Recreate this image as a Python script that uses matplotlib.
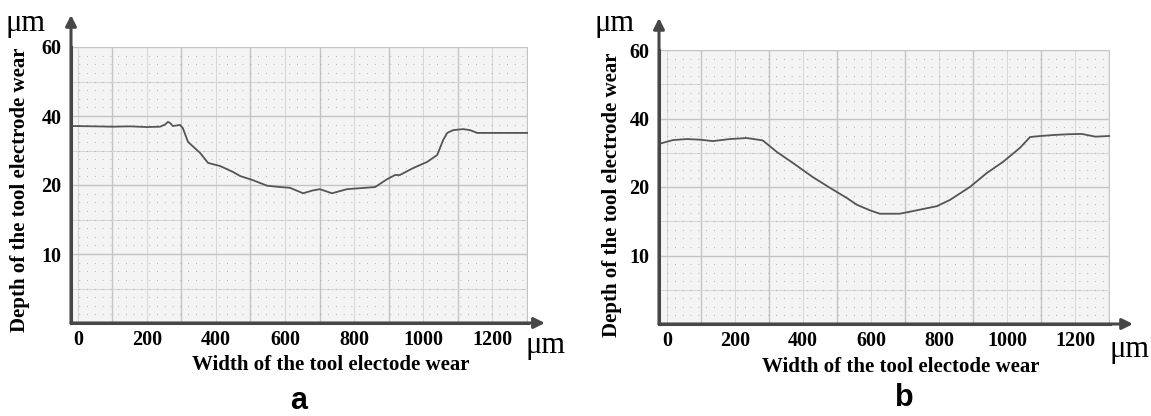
import numpy as np
import matplotlib.pyplot as plt
from matplotlib.ticker import FixedLocator, NullFormatter

# profile of panel a (width in um, depth in um)
width_a = [-18, 50, 100, 150, 200, 238, 252, 261, 268, 275, 296, 304, 319, 354, 377,
           412, 449, 470, 507, 548, 586, 614, 643, 652, 680, 701, 736, 780, 861, 896,
           919, 933, 971, 1012, 1041, 1058, 1070, 1087, 1116, 1136, 1157, 1203, 1261, 1304]
depth_a = [37.1, 37.0, 36.9, 37.0, 36.8, 36.9, 37.5, 38.3, 37.9, 37.1, 37.4, 36.5, 32.5,
           29.3, 26.4, 25.5, 23.8, 22.6, 21.4, 19.9, 19.7, 19.6, 19.0, 18.8, 19.2, 19.4,
           18.8, 19.4, 19.7, 21.7, 22.9, 22.9, 24.9, 26.7, 28.7, 33.0, 35.1, 35.9, 36.2,
           35.9, 35.1, 35.1, 35.1, 35.1]

# profile of panel b
width_b = [-15, 18, 59, 100, 135, 185, 235, 282, 324, 371, 429, 479, 529, 559, 597, 626,
           685, 735, 794, 832, 891, 941, 988, 1038, 1068, 1100, 1140, 1180, 1220, 1260, 1303]
depth_b = [32.8, 33.7, 34.0, 33.8, 33.4, 34.0, 34.3, 33.6, 30.2, 27.0, 22.9, 19.9, 18.4,
           17.4, 16.6, 16.1, 16.1, 16.6, 17.2, 18.1, 20.0, 24.1, 27.3, 31.4, 34.6, 34.9,
           35.2, 35.4, 35.5, 34.7, 34.9]

x_ticks = [0, 200, 400, 600, 800, 1000, 1200]
y_ticks = [10, 20, 40, 60]

# the printed depth axis is not linear: 0,10,20,40,60 are equally spaced
y_vals = [0, 10, 20, 40, 60]
y_pos = [0, 1, 2, 3, 4]


def fwd(v):
    return np.interp(v, y_vals, y_pos)


def inv(p):
    return np.interp(p, y_pos, y_vals)


serif = 'Liberation Serif'
axc = '#474747'

fig = plt.figure(figsize=(11.51, 4.16), dpi=100)


def draw_panel(rect, xs, ys, xlim, tip_x, tip_y, letter, letter_xy, ylab_xy, xlab_xy,
               um_top, um_right):
    ax = fig.add_axes(rect)
    ax.set_facecolor('#f4f4f4')
    ax.set_yscale('function', functions=(fwd, inv))
    ax.set_xlim(*xlim)
    ax.set_ylim(0, 60)

    # paper grid: major, middle and dotted lines
    for x in np.arange(100, 1400, 200):
        ax.axvline(x, color='#c4c4c4', lw=1.0, zorder=0)
    for x in np.arange(0, 1300, 200):
        ax.axvline(x, color='#d6d6d6', lw=0.7, zorder=0)
    for p in [1, 2, 3, 4]:
        ax.axhline(inv(p), color='#c4c4c4', lw=1.0, zorder=0)
    for p in [0.5, 1.5, 2.5, 3.5]:
        ax.axhline(inv(p), color='#d6d6d6', lw=0.7, zorder=0)
    ax.yaxis.set_minor_locator(FixedLocator(inv(np.arange(0, 4.01, 0.125))))
    ax.yaxis.set_minor_formatter(NullFormatter())
    ax.grid(True, which='minor', axis='y', color='#b0b0b0', lw=0.8,
            linestyle=(0, (0.8, 6.2)), zorder=0)

    ax.plot(xs, ys, color='#555555', lw=1.3, zorder=3)

    ax.set_xticks(x_ticks)
    ax.set_xticklabels([str(t) for t in x_ticks])
    ax.set_yticks(y_ticks)
    ax.set_yticklabels([str(t) for t in y_ticks])
    ax.tick_params(axis='both', which='both', length=0, labelsize=14.5)
    ax.tick_params(axis='x', pad=5)
    ax.tick_params(axis='y', pad=7)
    for lab in ax.get_xticklabels() + ax.get_yticklabels():
        lab.set_fontfamily(serif)
        lab.set_fontweight('bold')

    for s in ['top', 'right']:
        ax.spines[s].set_visible(False)
    for s in ['left', 'bottom']:
        ax.spines[s].set_color(axc)
        ax.spines[s].set_linewidth(2.2)

    ax.annotate('', xy=(0, tip_y), xytext=(0, 0), xycoords='axes fraction',
                arrowprops=dict(arrowstyle='-|>', color=axc, lw=2.2,
                                mutation_scale=16, shrinkA=0, shrinkB=0))
    ax.annotate('', xy=(tip_x, 0), xytext=(0, 0), xycoords='axes fraction',
                arrowprops=dict(arrowstyle='-|>', color=axc, lw=2.2,
                                mutation_scale=16, shrinkA=0, shrinkB=0))

    fig.text(ylab_xy[0] / 1151, 1 - ylab_xy[1] / 416, 'Depth of the tool electrode wear',
             rotation=90, ha='center', va='center', family=serif, weight='bold',
             fontsize=15)
    fig.text(xlab_xy[0] / 1151, 1 - xlab_xy[1] / 416, 'Width of the tool electode wear',
             ha='center', va='center', family=serif, weight='bold', fontsize=15)
    fig.text(um_top[0] / 1151, 1 - um_top[1] / 416, 'μm', ha='center', va='center',
             family=serif, fontsize=22)
    fig.text(um_right[0] / 1151, 1 - um_right[1] / 416, 'μm', ha='center', va='center',
             family=serif, fontsize=22)
    fig.text(letter_xy[0] / 1151, 1 - letter_xy[1] / 416, letter, ha='center',
             va='center', family='Liberation Sans', weight='bold', fontsize=22)
    return ax


draw_panel([71 / 1151, 1 - 323 / 416, 457 / 1151, 276 / 416], width_a, depth_a,
           (-20, 1304), 1.037, 1.116, 'a', (299, 401), (20, 190), (331, 365),
           (25, 24), (545, 346))
draw_panel([659 / 1151, 1 - 324 / 416, 451 / 1151, 274 / 416], width_b, depth_b,
           (-23, 1303), 1.051, 1.117, 'b', (904, 398), (612, 195), (901, 367),
           (614, 24), (1129, 349))

fig.savefig('out.png', dpi=100, facecolor='white')
